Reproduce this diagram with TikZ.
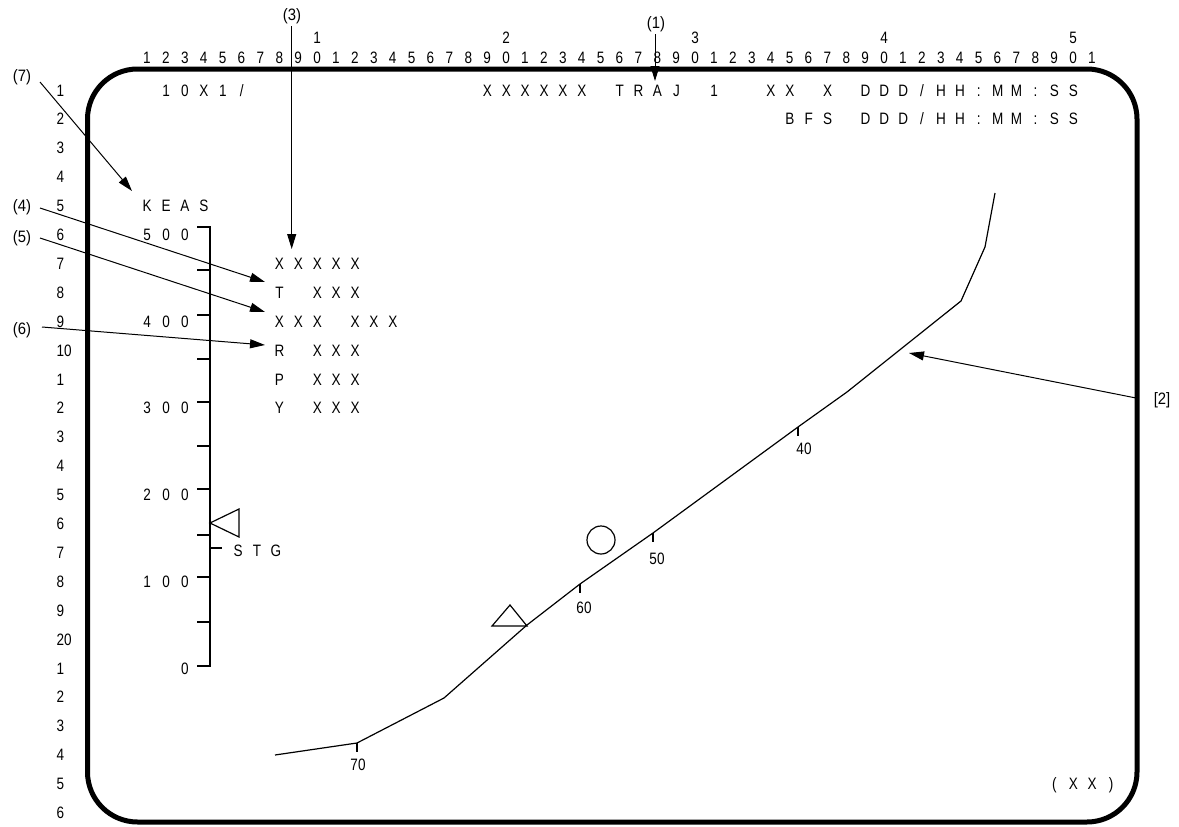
\documentclass[tikz,border=0pt]{standalone}
\usepackage{fontspec}
\setmainfont{Liberation Sans}[FakeStretch=0.82]
\newfontfamily\lblfont{Liberation Sans}[FakeStretch=0.9]
\usetikzlibrary{arrows.meta}
\newcommand\spr[1]{\sprI#1\relax}
\def\sprI#1{\ifx\relax#1\else\makebox[18.9pt]{#1}\expandafter\sprI\fi}
\newcommand\gt[4]{\node[gt] (#1) at ({147+(#2-1)*18.9-9.45},{90+(#3-1)*28.9+6}) {\spr{#4}};}
\begin{document}
\begin{tikzpicture}[x=1pt,y=-1pt,
  font=\fontsize{16.5}{18}\selectfont,
  gt/.style={anchor=base west, inner sep=0pt},
  dig/.style={anchor=base, inner sep=0pt},
  lbl/.style={inner sep=0pt, font=\lblfont\fontsize{16.5}{18}\selectfont},
  callout/.style={line width=1pt, -{Triangle[length=15pt,width=9pt]}},
  thin line/.style={line width=1.2pt},
  frame/.style={line width=5pt, rounded corners=50pt}]
\useasboundingbox (0,0) rectangle (1179,827);
% frame
\draw[frame] (87.5,69) rectangle (1137,822);
% top ruler
\foreach \c in {1,...,51}{
  \pgfmathtruncatemacro\d{mod(\c,10)}
  \node[dig] (col\c) at ({147+(\c-1)*18.9},63) {\d};}
\foreach \t in {1,...,5}{
  \node[dig] (ten\t) at ({147+(10*\t-1)*18.9},43) {\t};}
% left row numbers
\foreach \r in {1,...,26}{
  \pgfmathtruncatemacro\d{(\r==10)*10+(\r==20)*20+(\r!=10)*(\r!=20)*mod(\r,10)}
  \node[anchor=base west, inner sep=0pt] (row\r) at (56.5,{90+(\r-1)*28.9+6}) {\d};}
% header texts
\gt{hdr}{2}{1}{10X1/}
\gt{traj}{19}{1}{XXXXXX~TRAJ~1~~XX~X~DDD/HH:MM:SS}
\gt{bfs}{35}{2}{BFS~DDD/HH:MM:SS}
\gt{keas}{1}{5}{KEAS}
\gt{v500}{1}{6}{500}
\gt{v400}{1}{9}{400}
\gt{v300}{1}{12}{300}
\gt{v200}{1}{15}{200}
\gt{v100}{1}{18}{100}
\gt{v0}{3}{21}{0}
\gt{b1}{8}{7}{XXXXX}
\gt{b2}{8}{8}{T~XXX}
\gt{b3}{8}{9}{XXX~XXX}
\gt{b4}{8}{10}{R~XXX}
\gt{b5}{8}{11}{P~XXX}
\gt{b6}{8}{12}{Y~XXX}
\gt{xx}{49}{25}{(XX)}
\node[gt] (stg) at (228.5,556) {\spr{STG}};
% KEAS scale
\draw[thin line] (197,227) -- (210,227) -- (210,666) -- (197,666);
\foreach \y in {270,315,402,446,489,577,622}{\draw[thin line] (197,\y) -- (210,\y);}
\foreach \y in {359,535}{\draw[line width=2pt] (197,\y) -- (210,\y);}
\draw[thin line] (210,548) -- (222,548);
\draw[thin line] (210,523) -- (239,509) -- (239,537) -- cycle;
% trajectory
\coordinate (p0) at (275,755);
\coordinate (p70) at (357,743);
\coordinate (p2) at (444,698);
\coordinate (p3) at (527,625);
\coordinate (p60) at (580,584);
\coordinate (p50) at (653,533);
\coordinate (p40) at (798,427);
\coordinate (p7) at (847,392);
\coordinate (p8) at (961,301);
\coordinate (p9) at (985,247);
\coordinate (p10) at (995,193);
\draw[thin line, line join=round] (p0) -- (p70) -- (p2) -- (p3) -- (p60) -- (p50) -- (p40) -- (p7) -- (p8) -- (p9) -- (p10);
\foreach \p in {70,60,50,40}{\draw[thin line] (p\p) -- ++(0,9);}
\node[dig] (l70) at (358,770) {70};
\node[dig] (l60) at (584,613) {60};
\node[dig] (l50) at (657,564) {50};
\node[dig] (l40) at (804,454) {40};
\draw[thin line] (601,540) circle (14);
\draw[thin line] (492,626) -- (527,626) -- (510,605) -- cycle;
% callouts
\node[lbl] (c3) at (292,16) {(3)};
\node[lbl] (c1) at (656,24) {(1)};
\node[lbl] (c7) at (22,77) {(7)};
\node[lbl] (c4) at (22,207) {(4)};
\node[lbl] (c5) at (22,238) {(5)};
\node[lbl] (c6) at (22,330) {(6)};
\node[lbl] (c2) at (1162,400) {[2]};
\coordinate (s3) at (291.7,26);  \coordinate (t3) at (291.7,249);
\coordinate (s1) at (655,34);    \coordinate (t1) at (655,81);
\coordinate (s7) at (40,82);     \coordinate (t7) at (132,191);
\coordinate (s4) at (40,208);    \coordinate (t4) at (265,282);
\coordinate (s5) at (40,238);    \coordinate (t5) at (265,312);
\coordinate (s6) at (42,327);    \coordinate (t6) at (265,345);
\coordinate (s2) at (1136,398);  \coordinate (t2) at (909,353);
\foreach \i in {3,1,7,4,5,6,2}{\draw[callout] (s\i) -- (t\i);}
\end{tikzpicture}
\end{document}
